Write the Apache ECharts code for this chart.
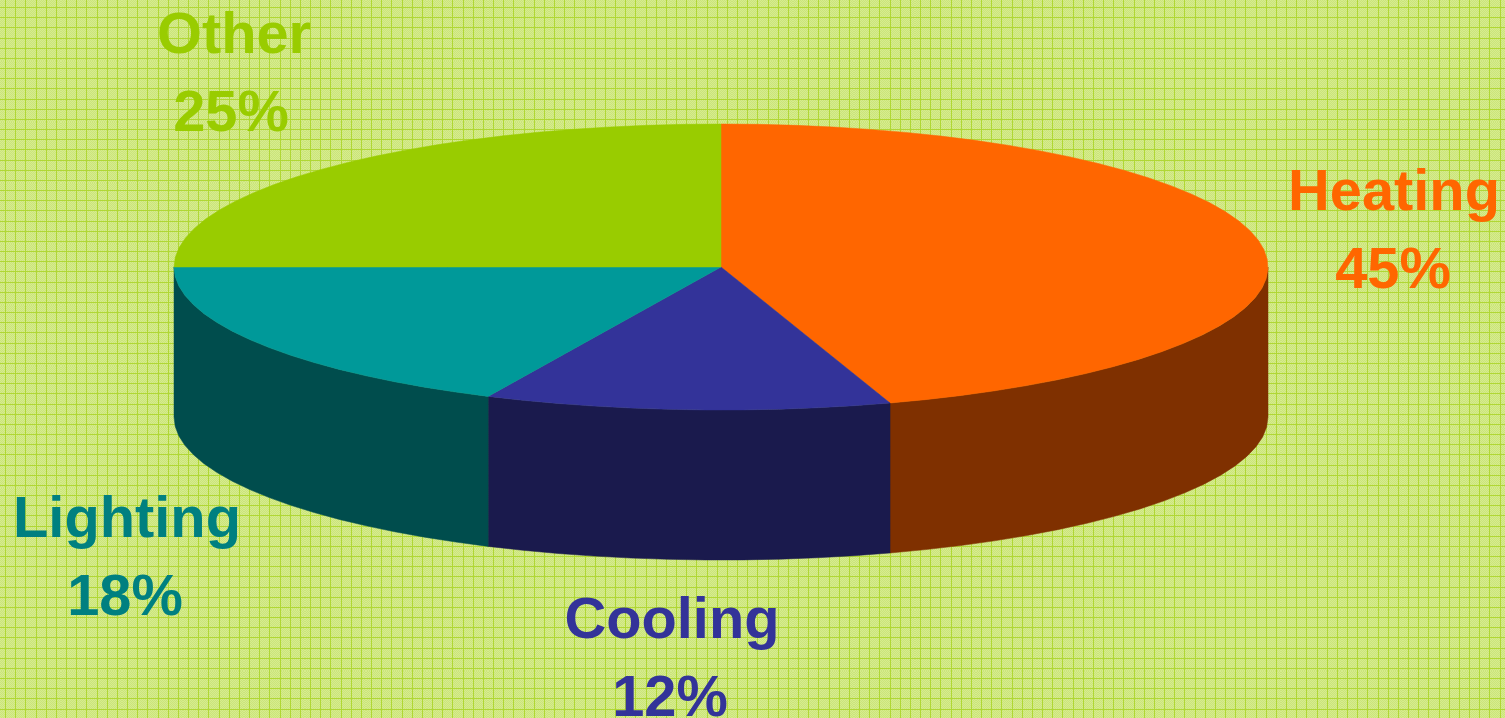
<!DOCTYPE html>
<html>
<head>
<meta charset="utf-8">
<style>html,body{margin:0;padding:0;background:#cfe58a}#c{width:1505px;height:718px}</style>
<script src="https://cdn.jsdelivr.net/npm/echarts@6/dist/echarts.min.js"></script>
</head>
<body>
<div id="c"></div>
<script>
const categories = ['Heating', 'Cooling', 'Lighting', 'Other'];
const shares = [45, 12, 18, 25];
const topColors = ['#ff6600', '#333399', '#009999', '#99cc00'];
const wallColors = ['#7f3000', '#1a1a4d', '#004d4d', '#5c7a00'];
const labelColors = ['#ff6600', '#333399', '#008080', '#99cc00'];
const nameCentersX = [1394, 672, 127, 234];
const percentCentersX = [1393, 670, 125, 231];
const labelFirstTops = [165, 593, 492, 8];

const CX = 721, CY = 267, RX = 547, RY = 143, DEPTH = 150;
const LINE_GAP = 78, FONT = 'bold 57.8px "Liberation Sans", Arial, sans-serif';
const total = shares.reduce((a, b) => a + b, 0);

function point(deg, dy) {
  const r = deg * Math.PI / 180;
  return [CX + RX * Math.sin(r), CY - RY * Math.cos(r) + (dy || 0)];
}
function arc(a, b, dy) {
  const out = [], n = Math.max(2, Math.ceil(Math.abs(b - a) / 4));
  for (let i = 0; i <= n; i++) out.push(point(a + (b - a) * i / n, dy));
  return out;
}
function makeTile() {
  const S = 61, c = document.createElement('canvas');
  c.width = c.height = S;
  const g = c.getContext('2d');
  g.fillStyle = '#d6ec8e';
  g.fillRect(0, 0, S, S);
  g.fillStyle = '#cbe47a';
  for (let y = 0; y < S; y++) for (let x = 0; x < S; x++) if ((x + y) % 2) g.fillRect(x, y, 1, 1);
  g.fillStyle = '#b0d734';
  for (let i = 0; i < 6; i++) {
    const p = Math.round(i * S / 6);
    g.fillRect((p + 5) % S, 0, 1, S);
    g.fillRect(0, (p + 7) % S, S, 1);
  }
  return c;
}
const chart = echarts.init(document.getElementById('c'), null, { renderer: 'canvas' });
chart.setOption({
  backgroundColor: { image: makeTile(), repeat: 'repeat' },
  animation: false,
  series: [{
    type: 'custom',
    coordinateSystem: 'none',
    data: shares,
    renderItem(params, api) {
      const i = params.dataIndex;
      const before = shares.slice(0, i).reduce((a, b) => a + b, 0);
      const a0 = before / total * 360, a1 = (before + shares[i]) / total * 360;
      const children = [];
      const w0 = Math.max(a0, 90), w1 = Math.min(a1, 270);
      if (w1 > w0) {
        const top = arc(w0, w1, 0), bot = arc(w0, w1, DEPTH).reverse();
        children.push({ type: 'polygon', shape: { points: top.concat(bot) },
          style: { fill: wallColors[i], stroke: wallColors[i], lineWidth: 0.5 } });
      }
      children.push({ type: 'polygon', shape: { points: [[CX, CY]].concat(arc(a0, a1, 0)) },
        style: { fill: topColors[i], stroke: topColors[i], lineWidth: 0.5 } });
      [categories[i], shares[i] + '%'].forEach((t, k) => children.push({
        type: 'text', z2: 10,
        style: { text: t, x: k ? percentCentersX[i] : nameCentersX[i], y: labelFirstTops[i] + k * LINE_GAP,
          font: FONT, fill: labelColors[i], align: 'center', verticalAlign: 'top' }
      }));
      return { type: 'group', children };
    }
  }]
});
</script>
</body>
</html>
